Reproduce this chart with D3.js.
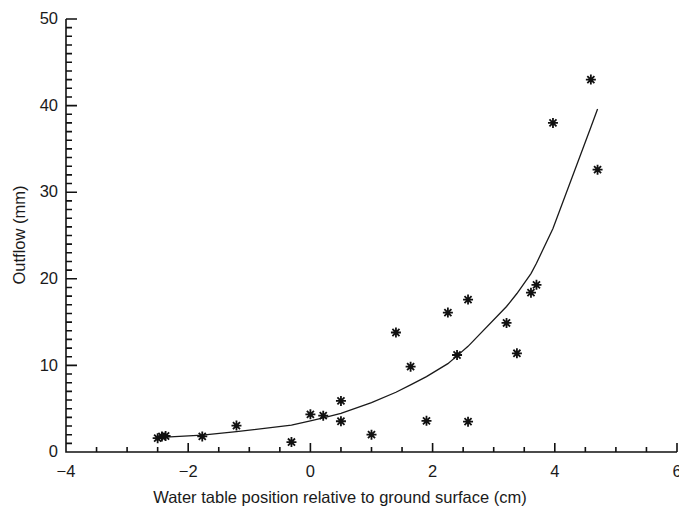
<!DOCTYPE html>
<html lang="en">
  <head>
    <meta charset="UTF-8" />
    <title>Outflow vs water table position</title>
    <script src="https://d3js.org/d3.v7.min.js"></script>
    <style>
      body {
        margin: 0;
        background: #fff;
      }
      text {
        font-family: "Liberation Sans", Arial, Helvetica, sans-serif;
        fill: #1a1a1a;
      }
    </style>
  </head>
  <body>
    <svg id="chart"></svg>
    <script>
      const WIDTH = 679;
      const HEIGHT = 510;

      // observed points (water table cm, outflow mm)
      const obsX = [-2.5, -2.43, -2.37, -1.77, -1.21, -0.31, 0.0, 0.21, 0.5, 0.5, 1.0, 1.4, 1.64, 1.9, 2.25, 2.4, 2.58, 2.58, 3.21, 3.38, 3.61, 3.7, 3.97, 4.59, 4.7];
      const obsY = [1.6, 1.8, 1.85, 1.8, 3.05, 1.15, 4.35, 4.2, 5.9, 3.55, 2.0, 13.8, 9.85, 3.6, 16.1, 11.2, 17.6, 3.5, 14.9, 11.4, 18.4, 19.3, 38.0, 43.0, 32.6];

      // fitted curve
      const fitX = [-2.5, -2.37, -1.77, -1.21, -0.31, 0.0, 0.21, 0.5, 1.0, 1.4, 1.64, 1.9, 2.25, 2.4, 2.58, 3.21, 3.38, 3.61, 3.7, 3.97, 4.59, 4.7];
      const fitY = [1.65, 1.72, 1.95, 2.35, 3.1, 3.6, 3.95, 4.45, 5.7, 6.9, 7.75, 8.7, 10.2, 11.1, 12.2, 16.8, 18.3, 20.6, 21.8, 25.8, 37.5, 39.6];

      const xTicks = [-4, -2, 0, 2, 4, 6];
      const yTicks = [0, 10, 20, 30, 40, 50];
      const xMinor = d3.range(-4, 6.01, 0.5);
      const yMinor = d3.range(0, 50.01, 1);

      const svg = d3.select("#chart").attr("width", WIDTH).attr("height", HEIGHT);

      const x = d3.scaleLinear().domain([-4, 6]).range([66, 677]);
      const y = d3.scaleLinear().domain([0, 50]).range([452, 19]);

      const fmt = (d) => (d < 0 ? "\u2212" + Math.abs(d) : String(d));
      const INK = "#111";

      // axes and inward ticks drawn as one path each
      const x0 = x(-4);
      const y0 = y(0);
      const xTickPath = xMinor
        .map((d) => `M${x(d)},${y0}V${y0 - (xTicks.includes(d) ? 9 : 5)}`)
        .join("");
      const yTickPath = yMinor
        .map((d) => `M${x0},${y(d)}H${x0 + (yTicks.includes(d) ? 11 : 6)}`)
        .join("");

      svg.append("path")
        .attr("d", `M${x(6)},${y0}H${x0}V${y(50)}` + xTickPath + yTickPath)
        .attr("fill", "none")
        .attr("stroke", INK)
        .attr("stroke-width", 1.6);

      // tick labels
      svg.append("g")
        .selectAll("text")
        .data(xTicks)
        .join("text")
        .attr("x", (d) => x(d))
        .attr("y", y0 + 13)
        .attr("dy", "0.71em")
        .attr("text-anchor", "middle")
        .attr("font-size", 16.5)
        .text(fmt);

      svg.append("g")
        .selectAll("text")
        .data(yTicks)
        .join("text")
        .attr("x", x0 - 8)
        .attr("y", (d) => y(d))
        .attr("dy", "0.32em")
        .attr("text-anchor", "end")
        .attr("font-size", 16.5)
        .text(fmt);

      // fitted line
      const line = d3.line().x((d) => x(d[0])).y((d) => y(d[1]));
      svg.append("path")
        .datum(d3.zip(fitX, fitY))
        .attr("d", line)
        .attr("fill", "none")
        .attr("stroke", "#1a1a1a")
        .attr("stroke-width", 1.3);

      // asterisk markers
      const r = 5;
      const d45 = r * Math.SQRT1_2;
      const star = `M${-r},0H${r}M0,${-r}V${r}M${-d45},${-d45}L${d45},${d45}M${-d45},${d45}L${d45},${-d45}`;
      svg.append("g")
        .selectAll("path")
        .data(d3.zip(obsX, obsY))
        .join("path")
        .attr("transform", (d) => `translate(${x(d[0])},${y(d[1])})`)
        .attr("d", star)
        .attr("fill", "none")
        .attr("stroke", INK)
        .attr("stroke-width", 1.8);

      // axis titles
      svg.append("text")
        .attr("x", 340)
        .attr("y", 503)
        .attr("text-anchor", "middle")
        .attr("font-size", 16.5)
        .text("Water table position relative to ground surface (cm)");

      svg.append("text")
        .attr("transform", "translate(25,235) rotate(-90)")
        .attr("text-anchor", "middle")
        .attr("font-size", 16.5)
        .text("Outflow (mm)");
    </script>
  </body>
</html>
